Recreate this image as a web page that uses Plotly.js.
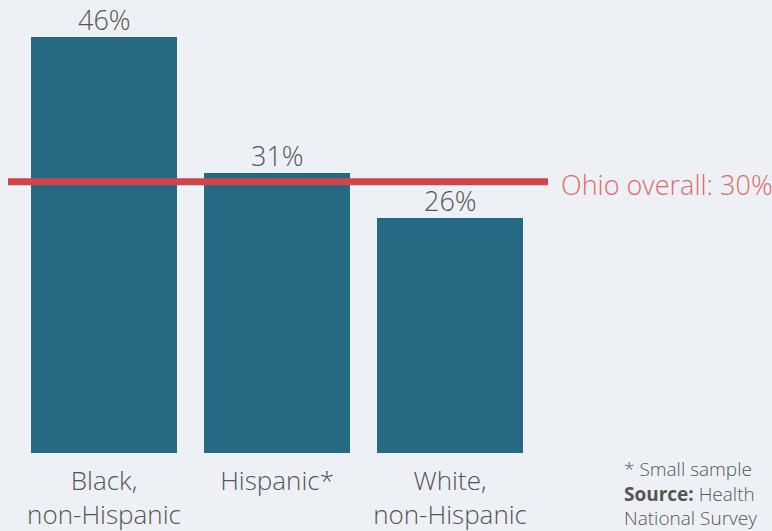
<!DOCTYPE html>
<html><head><meta charset="utf-8">
<script src="https://cdn.plot.ly/plotly-3.0.1.min.js"></script>
<style>html,body{margin:0;padding:0;background:#edf1f5;}#chart{width:772px;height:531px;}</style>
</head><body><div id="chart"></div>
<script>
const categories = ["Black,<br>non-Hispanic", "Hispanic*", "White,<br>non-Hispanic"];
const values = [46, 31, 26];
const valueLabels = ["46%", "31%", "26%"];
const overallValue = 30;
const overallLabel = "Ohio overall: 30%";
const footnoteLines = ["* Small sample", "<b>Source:</b> Health", "National Survey"];

const font = "'Open Sans', sans-serif";
const xpos = categories.map((c, i) => i);
const trace = {
  type: "bar",
  x: xpos,
  y: values,
  width: 0.844,
  marker: {color: "#256a82"},
  cliponaxis: false,
  hoverinfo: "none"
};
const valueAnn = values.map((v, i) => ({
  xref: "x", x: xpos[i], yref: "y", y: v, yanchor: "bottom", yshift: -3,
  text: valueLabels[i], showarrow: false,
  font: {family: font, size: 27, color: "#555555", weight: 300}
}));
const layout = {
  width: 772, height: 531,
  margin: {l: 8, r: 224, t: 0, b: 78},
  paper_bgcolor: "#edf1f5", plot_bgcolor: "#edf1f5",
  showlegend: false,
  bargap: 0,
  xaxis: {
    range: [-0.555, 2.566], tickvals: xpos, ticktext: categories,
    showgrid: false, zeroline: false, showline: false, ticks: "",
    ticklabelstandoff: 10,
    tickfont: {family: font, size: 26, color: "#555555", weight: 300},
    fixedrange: true
  },
  yaxis: {range: [0, 50.1], visible: false, fixedrange: true},
  shapes: [{
    type: "line", xref: "paper", x0: 0, x1: 1, yref: "y", y0: overallValue, y1: overallValue,
    line: {color: "#d0454c", width: 7}
  }],
  annotations: [{
    xref: "paper", x: 1, xanchor: "left", xshift: 11, yref: "y", y: overallValue, yanchor: "middle", yshift: -3,
    text: overallLabel, showarrow: false,
    font: {family: font, size: 27, color: "#e06a6a", weight: 300}
  }, {
    xref: "paper", x: 1, xanchor: "left", xshift: 74, yref: "paper", y: 0, yanchor: "top", yshift: -1,
    text: footnoteLines.join("<br>"), showarrow: false, align: "left",
    font: {family: font, size: 19, color: "#555555", weight: 300}
  }].concat(valueAnn)
};
Plotly.newPlot("chart", [trace], layout, {displayModeBar: false, staticPlot: true});
</script></body></html>
